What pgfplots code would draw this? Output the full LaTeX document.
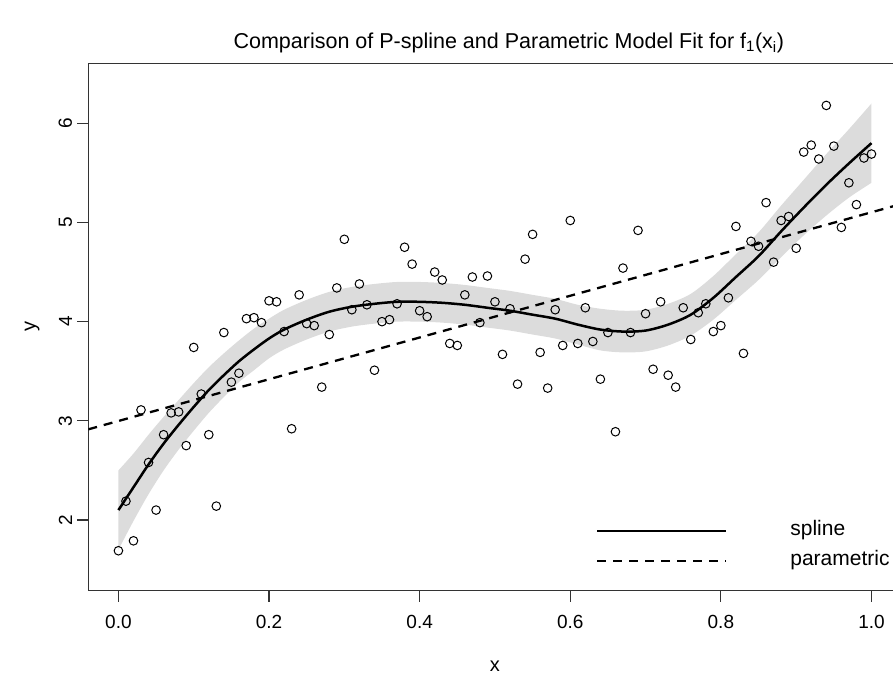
\documentclass[border=0pt]{standalone}
\usepackage{fontspec}
\setmainfont{Liberation Sans}
\usepackage{pgfplots}
\usepackage{pgfplotstable}
\pgfplotsset{compat=1.18}
\usepgfplotslibrary{fillbetween}

\definecolor{bandgray}{HTML}{DCDCDC}
\definecolor{boxline}{HTML}{333333}

% observed points
\pgfplotstableread{
x y
0.00 1.69
0.01 2.19
0.02 1.79
0.03 3.11
0.04 2.58
0.05 2.10
0.06 2.86
0.07 3.08
0.08 3.09
0.09 2.75
0.10 3.74
0.11 3.27
0.12 2.86
0.13 2.14
0.14 3.89
0.15 3.39
0.16 3.48
0.17 4.03
0.18 4.04
0.19 3.99
0.20 4.21
0.21 4.20
0.22 3.90
0.23 2.92
0.24 4.27
0.25 3.98
0.26 3.96
0.27 3.34
0.28 3.87
0.29 4.34
0.30 4.83
0.31 4.12
0.32 4.38
0.33 4.17
0.34 3.51
0.35 4.00
0.36 4.02
0.37 4.18
0.38 4.75
0.39 4.58
0.40 4.11
0.41 4.05
0.42 4.50
0.43 4.42
0.44 3.78
0.45 3.76
0.46 4.27
0.47 4.45
0.48 3.99
0.49 4.46
0.50 4.20
0.51 3.67
0.52 4.13
0.53 3.37
0.54 4.63
0.55 4.88
0.56 3.69
0.57 3.33
0.58 4.12
0.59 3.76
0.60 5.02
0.61 3.78
0.62 4.14
0.63 3.80
0.64 3.42
0.65 3.89
0.66 2.89
0.67 4.54
0.68 3.89
0.69 4.92
0.70 4.08
0.71 3.52
0.72 4.20
0.73 3.46
0.74 3.34
0.75 4.14
0.76 3.82
0.77 4.09
0.78 4.18
0.79 3.90
0.80 3.96
0.81 4.24
0.82 4.96
0.83 3.68
0.84 4.81
0.85 4.76
0.86 5.20
0.87 4.60
0.88 5.02
0.89 5.06
0.90 4.74
0.91 5.71
0.92 5.78
0.93 5.64
0.94 6.18
0.95 5.77
0.96 4.95
0.97 5.40
0.98 5.18
0.99 5.65
1.00 5.69
}\obs

% P-spline fit with its band
\pgfplotstableread{
x fit lo hi
0.00 2.10 1.70 2.50
0.02 2.33 1.99 2.67
0.04 2.56 2.26 2.86
0.06 2.77 2.50 3.04
0.08 2.96 2.71 3.21
0.10 3.14 2.90 3.38
0.12 3.31 3.08 3.54
0.14 3.46 3.24 3.68
0.16 3.60 3.39 3.81
0.18 3.72 3.51 3.93
0.20 3.83 3.63 4.03
0.22 3.92 3.72 4.12
0.25 4.02 3.82 4.22
0.28 4.10 3.90 4.30
0.31 4.15 3.95 4.35
0.34 4.18 3.98 4.38
0.37 4.20 4.00 4.40
0.40 4.20 4.00 4.40
0.43 4.19 3.99 4.39
0.46 4.17 3.97 4.37
0.49 4.14 3.94 4.34
0.52 4.11 3.91 4.31
0.55 4.07 3.87 4.27
0.58 4.03 3.83 4.23
0.61 3.97 3.77 4.17
0.64 3.92 3.71 4.13
0.67 3.90 3.69 4.11
0.70 3.91 3.70 4.12
0.73 3.97 3.76 4.18
0.76 4.07 3.86 4.28
0.79 4.24 4.02 4.46
0.82 4.45 4.22 4.68
0.85 4.66 4.42 4.90
0.88 4.91 4.65 5.17
0.91 5.15 4.87 5.43
0.94 5.38 5.07 5.69
0.97 5.595 5.25 5.94
1.00 5.80 5.40 6.20
}\fitted

% parametric (linear) fit
\pgfplotstableread{
x y
-0.04 2.914
1.04 5.187
}\linfit

\begin{document}
\begin{tikzpicture}
\begin{axis}[
  name=ax,
  scale only axis,
  width=813.3pt, height=527.4pt,
  xmin=-0.04, xmax=1.04,
  ymin=1.287, ymax=6.605,
  xtick={0,0.2,0.4,0.6,0.8,1},
  xticklabels={0.0,0.2,0.4,0.6,0.8,1.0},
  ytick={2,3,4,5,6},
  yticklabels={2,3,4,5,6},
  xtick pos=left, ytick pos=left,
  tick align=outside,
  major tick length=11pt,
  axis line style={line width=1.2pt, draw=boxline},
  tick style={line width=1.2pt, draw=boxline},
  ticklabel style={font=\fontsize{19}{22}\selectfont},
  xticklabel style={anchor=north, inner sep=0pt, yshift=-13pt},
  yticklabel style={rotate=90, anchor=south, inner sep=0pt, yshift=5pt},
  xlabel={x}, ylabel={y},
  xlabel style={at={(axis description cs:0.5,-0.144)}, anchor=center,
                font=\fontsize{20}{24}\selectfont},
  ylabel style={at={(axis description cs:-0.069,0.5)}, anchor=center,
                font=\fontsize{20}{24}\selectfont},
  title={Comparison of P-spline and Parametric Model Fit for f\textsubscript{1}(x\textsubscript{i})},
  title style={at={(axis description cs:0.517,1.027)}, anchor=center,
               font=\fontsize{21.5}{26}\selectfont},
  legend image code/.code={\draw[#1] (0pt,0pt) -- (129pt,0pt);},
  legend cell align=left,
  legend style={at={(axis cs:0.634,1.738)}, anchor=west,
                draw=none, fill=none, inner sep=0pt, outer sep=0pt,
                font=\fontsize{21}{24}\selectfont,
                column sep=63pt, row sep=10pt,
                nodes={inner sep=0pt, text height=15pt, text depth=5pt}},
]
% confidence band
\addplot[name path=up, draw=none, smooth, forget plot] table[x=x, y=hi] {\fitted};
\addplot[name path=dn, draw=none, smooth, forget plot] table[x=x, y=lo] {\fitted};
\addplot[fill=bandgray, draw=none, forget plot] fill between[of=up and dn];
% data
\addplot[only marks, mark=o, mark size=4.3pt, line width=1.0pt, black, forget plot]
  table[x=x, y=y] {\obs};
% fits
\addplot[black, line width=2.5pt, smooth, tension=0.5] table[x=x, y=fit] {\fitted};
\addlegendentry{spline}
\addplot[black, line width=2.3pt, dash pattern=on 9pt off 7pt] table[x=x, y=y] {\linfit};
\addlegendentry{parametric}
\end{axis}
\pgfresetboundingbox
\path[use as bounding box] ([xshift=-88.3pt,yshift=-86.3pt]ax.south west)
  rectangle ([xshift=804.7pt,yshift=590.7pt]ax.south west);
\end{tikzpicture}
\end{document}
